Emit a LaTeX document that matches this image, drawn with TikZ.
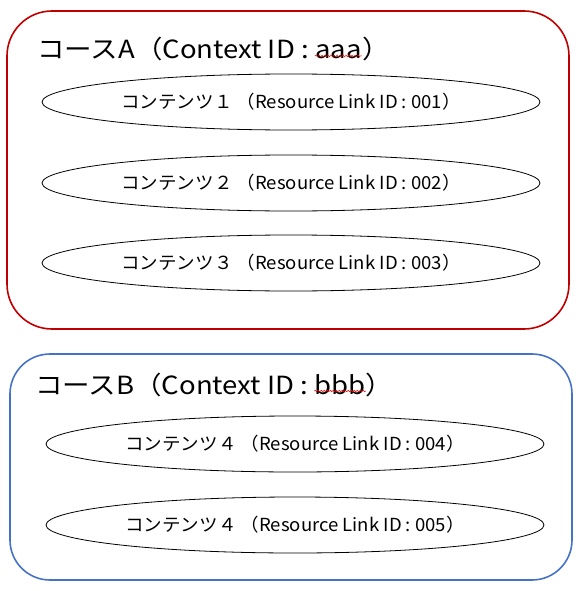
\documentclass[tikz,border=0pt]{standalone}
\usepackage{fontspec}
\setmainfont{Noto Sans CJK JP}
\newfontfamily\ttlfont[FakeStretch=1.1]{Noto Sans CJK JP}
\newfontfamily\ellfont[FakeStretch=1.03]{Noto Sans CJK JP}
\usetikzlibrary{shapes.geometric,decorations.pathmorphing}
\definecolor{cred}{HTML}{C00000}
\definecolor{cblue}{HTML}{4472C4}
\begin{document}
\begin{tikzpicture}[x=1pt,y=-1pt,
  course/.style={draw, line width=1.6pt, rectangle, inner sep=0pt},
  ell/.style={draw=black, ellipse, line width=0.8pt, inner sep=0pt, minimum width=498pt, minimum height=56pt, font=\ellfont\fontsize{18}{20}\selectfont},
  ttl/.style={inner sep=0pt, anchor=base west, font=\ttlfont\fontsize{25}{29}\selectfont},
  spell/.style={draw=red, line width=0.5pt, decorate, decoration={snake, segment length=3pt, amplitude=0.8pt}}]
\useasboundingbox (0,0) rectangle (583,591);
\node[course, draw=cred, rounded corners=45pt, minimum width=562pt, minimum height=318pt] (courseA) at (288,170) {};
\node[course, draw=cblue, rounded corners=40pt, minimum width=562pt, minimum height=226pt] (courseB) at (291,467) {};
% titles
\node[ttl] (tA1) at (37,59) {コースA（Context ID :};
\node[ttl] (tA2) at ([xshift=6pt]tA1.base east) {aaa};
\node[ttl] (tA3) at (tA2.base east) {）};
\draw[spell] ([yshift=3pt]tA2.base west) -- ([yshift=3pt]tA2.base east);
\node[ttl] (tB1) at (35,394) {コースB（Context ID :};
\node[ttl] (tB2) at ([xshift=6pt]tB1.base east) {bbb};
\node[ttl] (tB3) at (tB2.base east) {）};
\draw[spell] ([yshift=3pt]tB2.base west) -- ([yshift=3pt]tB2.base east);
% contents
\node[ell] (c1) at (291,102) {コンテンツ１ （Resource Link ID : 001）};
\node[ell] (c2) at (291,183) {コンテンツ２ （Resource Link ID : 002）};
\node[ell] (c3) at (291,263) {コンテンツ３ （Resource Link ID : 003）};
\node[ell] (c4) at (295,444) {コンテンツ４ （Resource Link ID : 004）};
\node[ell] (c5) at (295,525) {コンテンツ４ （Resource Link ID : 005）};
\end{tikzpicture}
\end{document}
